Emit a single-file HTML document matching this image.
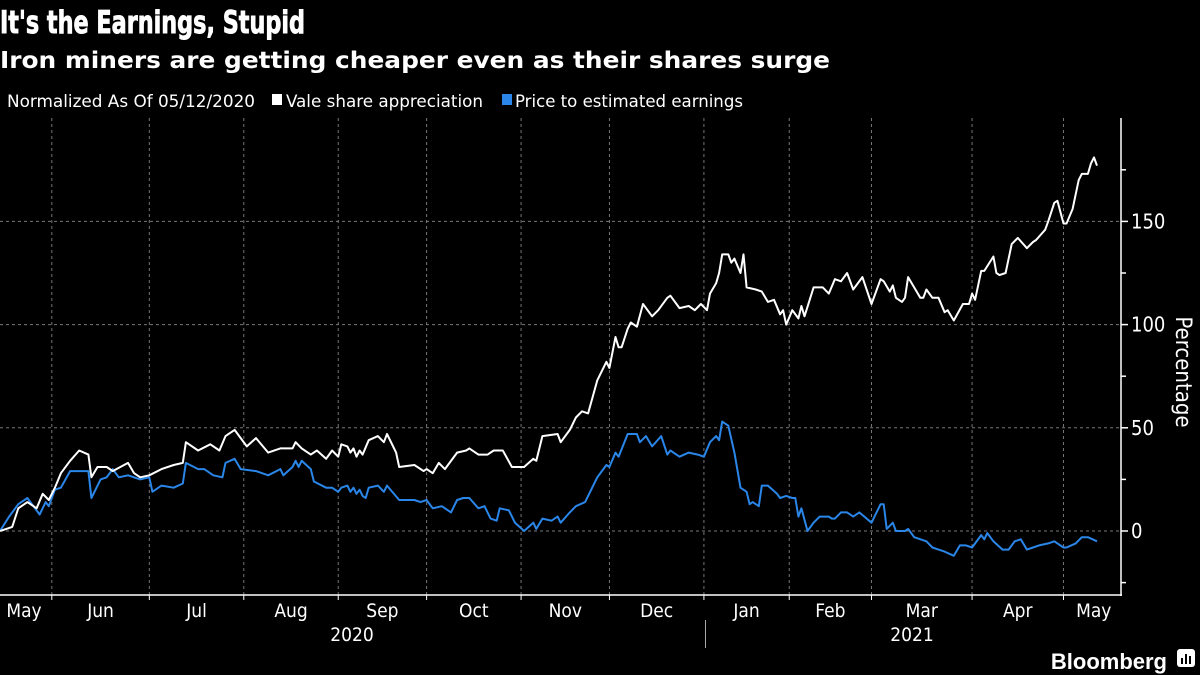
<!DOCTYPE html>
<html><head><meta charset="utf-8"><style>
html,body{margin:0;padding:0;background:#000;}
svg{display:block;font-family:"DejaVu Sans Condensed","Liberation Sans",sans-serif;}
</style></head>
<body>
<svg id="chart" width="1200" height="675" viewBox="0 0 1200 675" xmlns="http://www.w3.org/2000/svg">
<rect x="0" y="0" width="1200" height="675" fill="#000"/>
<text x="0" y="33" fill="#fff" stroke="#fff" stroke-width="0.9" font-size="31" font-weight="bold" font-family="DejaVu Sans, sans-serif" textLength="305" lengthAdjust="spacingAndGlyphs">It's the Earnings, Stupid</text>
<text x="0" y="68" fill="#fff" font-size="23" font-weight="bold" font-family="DejaVu Sans, sans-serif" textLength="830" lengthAdjust="spacingAndGlyphs">Iron miners are getting cheaper even as their shares surge</text>
<g>
<text x="7" y="107" fill="#fff" font-size="17" textLength="248" lengthAdjust="spacingAndGlyphs">Normalized As Of 05/12/2020</text>
<rect x="272" y="94" width="10" height="11" fill="#fff"/>
<text x="286" y="107" fill="#fff" font-size="17" textLength="197" lengthAdjust="spacingAndGlyphs">Vale share appreciation</text>
<rect x="502" y="94" width="10" height="11" fill="#2a86e8"/>
<text x="515" y="107" fill="#fff" font-size="17" textLength="228" lengthAdjust="spacingAndGlyphs">Price to estimated earnings</text>
</g>
<g id="grid"></g>
<g id="axes"></g>
<g id="series"></g>
<text transform="translate(1176,372) rotate(90)" text-anchor="middle" fill="#fff" font-size="22">Percentage</text>
<text x="352" y="641" text-anchor="middle" fill="#fff" font-size="19">2020</text>
<text x="912" y="641" text-anchor="middle" fill="#fff" font-size="19">2021</text>
<line x1="705.5" y1="620" x2="705.5" y2="648" stroke="#aaa" stroke-width="1"/>
<g>
<text x="1167" y="669" text-anchor="end" fill="#fff" font-size="22" font-weight="bold" font-family="Liberation Sans, sans-serif">Bloomberg</text>
<rect x="1177" y="649" width="18" height="18" rx="3" fill="#fff"/>
<rect x="1181" y="658" width="2" height="6" fill="#000"/><rect x="1185" y="654" width="2" height="10" fill="#000"/><rect x="1189" y="656" width="2" height="8" fill="#000"/>
</g>
</svg>
<script>
const valeDays=[0,4,6,9,12,14,16,18,20,23,26,29,30,32,35,37,42,44,46,49,53,57,60,61,65,69,72,74,77,81,84,88,92,96,97,99,102,104,107,109,111,112,114,115,116,117,118,119,121,124,126,127,130,131,136,139,140,142,144,146,150,153,154,157,160,162,165,168,172,175,176,178,183,184,187,189,191,193,196,199,200,202,203,204,206,207,209,211,214,216,219,220,223,226,228,230,232,233,235,236,237,239,240,241,243,244,245,248,250,252,254,256,257,258,260,262,263,264,267,270,272,274,276,278,280,283,286,289,290,292,293,294,296,297,298,302,303,304,306,308,310,311,313,316,318,319,320,322,323,326,327,328,330,332,334,337,339,340,343,344,346,347,349,350,352,354,355,357,358,359,360];
const valeVals=[0,2,11,14,11,18,15,21,28,34,39,37,26,31,31,29,33,28,26,27,30,32,33,43,39,42,39,46,49,41,45,38,40,40,43,40,37,39,35,39,36,42,41,38,40,36,39,37,44,46,43,47,38,31,32,29,30,28,33,30,38,39,40,37,37,39,39,31,31,35,34,46,47,43,49,55,58,57,73,82,79,94,89,89,98,101,99,110,104,107,113,114,108,109,107,110,107,115,120,125,134,134,130,132,125,134,118,117,116,111,112,105,107,100,107,103,109,104,118,118,115,122,121,125,117,123,110,122,121,116,119,113,111,113,123,113,113,117,113,113,106,107,102,110,110,115,112,126,126,133,125,124,125,139,142,137,140,141,146,150,159,160,149,149,156,170,173,173,178,181,177];
const peDays=[0,3,6,9,13,15,16,18,20,23,26,29,30,33,35,37,39,42,46,49,50,53,57,60,61,65,67,70,73,74,77,79,84,88,92,93,96,97,98,99,102,103,107,109,111,112,114,115,116,117,118,119,120,121,124,126,127,131,136,138,140,142,145,148,150,152,154,157,159,161,163,164,167,169,172,175,176,178,181,183,184,187,189,192,196,199,200,202,203,206,207,209,210,212,214,217,219,220,223,226,229,231,233,235,236,237,239,241,243,245,246,247,249,250,252,255,256,258,260,261,262,263,265,267,269,272,273,274,276,278,280,282,286,289,290,291,293,294,297,298,300,304,306,308,310,313,315,317,319,322,323,324,326,329,331,333,335,337,339,341,344,346,349,350,353,355,357,360];
const peVals=[0,7,13,16,8,14,12,20,21,29,29,29,16,25,26,30,26,27,25,26,19,22,21,23,33,30,30,27,26,33,35,30,29,27,30,27,31,34,31,34,30,24,21,21,19,21,22,19,21,18,20,17,16,21,22,19,22,15,15,14,15,11,12,9,15,16,16,11,12,6,5,11,10,4,0,4,1,6,5,7,4,9,12,14,26,32,31,38,36,47,47,47,43,46,41,46,37,39,36,38,37,36,43,46,44,53,51,38,21,19,13,14,12,22,22,18,16,17,16,16,7,11,0,4,7,7,6,6,9,9,7,9,4,13,13,1,4,0,0,1,-3,-5,-8,-9,-10,-12,-7,-7,-8,-2,-4,-1,-5,-9,-9,-5,-4,-9,-8,-7,-6,-5,-8,-8,-6,-3,-3,-5];
const monthDays=[17,49,80,111,140,171,200,231,259,286,319,349];
const monthLabels=["May","Jun","Jul","Aug","Sep","Oct","Nov","Dec","Jan","Feb","Mar","Apr","May"];
const yTicks=[0,50,100,150];
const yMinor=[-25,25,75,125,175];

const NS="http://www.w3.org/2000/svg";
const X=d=>d/360*1097;
const Y=v=>531-v*2.064;
function mk(tag,attrs,parent){const e=document.createElementNS(NS,tag);for(const k in attrs)e.setAttribute(k,attrs[k]);parent.appendChild(e);return e;}
const grid=document.getElementById('grid'),axes=document.getElementById('axes'),series=document.getElementById('series');
yTicks.forEach(v=>{
  const l=mk('line',{x1:0,x2:1121,y1:Y(v),y2:Y(v),stroke:'#777','stroke-width':1,'stroke-dasharray':'3,3'},grid);
  
  
  const t=mk('line',{x1:1121,x2:1128,y1:Y(v),y2:Y(v),stroke:'#fff','stroke-width':1.5},axes);
  
  
  const tx=mk('text',{x:1131,y:Y(v)+7,fill:'#fff','font-size':20},axes);
  tx.textContent=v;
  
  
});
yMinor.forEach(v=>{
  const t=mk('line',{x1:1121,x2:1126,y1:Y(v),y2:Y(v),stroke:'#fff','stroke-width':1.5},axes);
  
  
});
const bounds=[0].concat(monthDays).concat([360+27/1097*360]);
monthDays.forEach(d=>{
  const l=mk('line',{x1:X(d),x2:X(d),y1:118,y2:595,stroke:'#777','stroke-width':1,'stroke-dasharray':'3,3'},grid);
  
  
  const t=mk('line',{x1:X(d),x2:X(d),y1:595,y2:600,stroke:'#fff','stroke-width':1},axes);
  
  
});
monthLabels.forEach((m,i)=>{
  let cx=(X(bounds[i])+X(bounds[i+1]))/2;
  if(i===0)cx=24;
  const tx=mk('text',{x:cx,y:617,fill:'#fff','font-size':19,'text-anchor':'middle'},axes);
  tx.textContent=m;
  
  
});
const xa=mk('line',{x1:0,x2:1122,y1:595,y2:595,stroke:'#fff','stroke-width':1.5},axes);


const ya=mk('line',{x1:1121,x2:1121,y1:118,y2:596,stroke:'#fff','stroke-width':1.5},axes);


function line(days,vals,color,name){
  const d=days.map((t,i)=>(i?'L':'M')+X(t).toFixed(1)+','+Y(vals[i]).toFixed(1)).join('');
  const p=mk('path',{d:d,fill:'none',stroke:color,'stroke-width':2,'stroke-linejoin':'round'},series);
  
  
}
line(peDays,peVals,'#2a86e8','pe-line');
line(valeDays,valeVals,'#ffffff','vale-line');
</script>
</body></html>
